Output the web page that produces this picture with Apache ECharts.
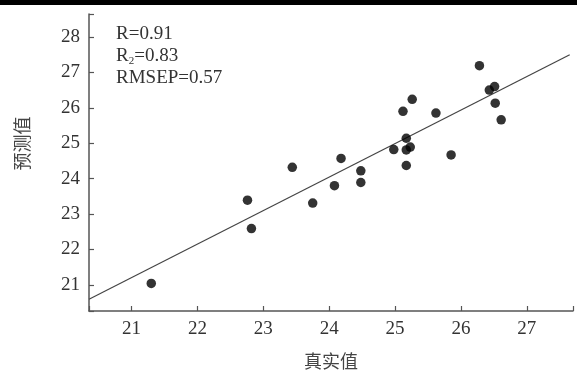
<!DOCTYPE html>
<html><head><meta charset="utf-8">
<script src="https://cdn.jsdelivr.net/npm/echarts@6/dist/echarts.min.js"></script>
<style>html,body{margin:0;padding:0;background:#fff}#c{width:577px;height:372px}</style>
</head><body><div id="c"></div>
<script>
// Scatter data: true value (x) vs predicted value (y)
const actual =    [21.30, 22.76, 22.82, 23.44, 23.75, 24.08, 24.18, 24.48, 24.48, 24.98, 25.17, 25.17, 25.23, 25.17, 25.12, 25.26, 25.62, 25.85, 26.28, 26.43, 26.51, 26.52, 26.61];
const predicted = [21.04, 23.39, 22.59, 24.32, 23.31, 23.80, 24.57, 24.22, 23.89, 24.82, 25.14, 24.81, 24.89, 24.37, 25.90, 26.24, 25.85, 24.67, 27.19, 26.50, 26.60, 26.13, 25.66];
// Fitted line end points
const fitX = [20.355, 27.65];
const fitY = [20.59, 27.50];
// Tick labels
const xTicks = [21, 22, 23, 24, 25, 26, 27];
const yTicks = [21, 22, 23, 24, 25, 26, 27, 28];
const stats = ['R=0.91', 'R{s|2}=0.83', 'RMSEP=0.57'];

const serif = '"Liberation Serif", "Times New Roman", serif';
const axisColor = '#555';
const chart = echarts.init(document.getElementById('c'), null, {renderer: 'canvas'});

function labelFmt(list) {
  return function (v) {
    const r = Math.round(v * 1000) / 1000;
    return list.indexOf(r) >= 0 ? String(r) : '';
  };
}

const scatterData = actual.map((x, i) => [x, predicted[i]]);
const lineData = fitX.map((x, i) => [x, fitY[i]]);

chart.setOption({
  animation: false,
  backgroundColor: '#fff',
  grid: {left: 89, right: 4, top: 14, bottom: 61, containLabel: false, outerBoundsMode: 'none'},
  xAxis: {
    type: 'value', min: 20.355, max: 27.7, splitNumber: 7,
    name: '真实值', nameLocation: 'middle', nameGap: 41,
    nameTextStyle: {fontFamily: '"Noto Sans CJK SC", sans-serif', fontSize: 18, color: '#444'},
    axisLine: {show: true, lineStyle: {color: axisColor, width: 1.5}},
    axisTick: {show: true, inside: true, length: 5, lineStyle: {color: axisColor, width: 1.2}},
    axisLabel: {fontFamily: serif, fontSize: 19, color: '#333', margin: 9, formatter: labelFmt(xTicks)},
    splitLine: {show: false}
  },
  yAxis: {
    type: 'value', min: 20.26, max: 28.65, splitNumber: 8,
    name: '预测值', nameLocation: 'middle', nameGap: 58, nameRotate: 90,
    nameTextStyle: {fontFamily: '"Noto Sans CJK SC", sans-serif', fontSize: 18, color: '#444', padding: [0, 0, 0, 38]},
    axisLine: {show: true, lineStyle: {color: axisColor, width: 1.5}},
    axisTick: {show: true, inside: true, length: 5, lineStyle: {color: axisColor, width: 1.2}},
    axisLabel: {fontFamily: serif, fontSize: 19, color: '#333', margin: 9, formatter: labelFmt(yTicks)},
    splitLine: {show: false}
  },
  series: [
    {
      type: 'line', data: lineData, showSymbol: false, silent: true,
      lineStyle: {color: '#444', width: 1.2}, z: 1
    },
    {
      type: 'scatter', data: scatterData, symbol: 'circle', symbolSize: 9.5,
      itemStyle: {color: '#000'}, z: 2
    }
  ],
  graphic: [
    {type: 'rect', left: 0, top: 0, shape: {width: 577, height: 5}, style: {fill: '#000'}},
    {type: 'text', left: 116, top: 25, style: {text: stats[0], font: '19px ' + serif, fill: '#333'}},
    {type: 'text', left: 116, top: 47, style: {text: stats[1], font: '19px ' + serif, fill: '#333',
      rich: {s: {fontSize: 11, fontFamily: serif, fill: '#333', padding: [9, 0, 0, 0]}}}},
    {type: 'text', left: 116, top: 69, style: {text: stats[2], font: '19px ' + serif, fill: '#333'}}
  ]
});
</script></body></html>
